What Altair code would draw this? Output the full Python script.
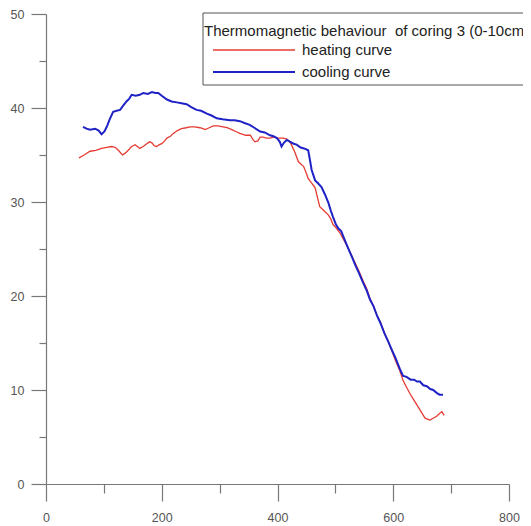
import altair as alt
import pandas as pd

series_names = ["heating curve", "cooling curve"]
series_colors = ["#e63b33", "#1f22c6"]
series_widths = [1.3, 2.0]
legend_title = "Thermomagnetic behaviour\u00a0 of coring 3 (0-10cm)"

x_ticks = list(range(0, 801, 100))
y_ticks = list(range(0, 51, 5))

heat_x = [57, 66, 76, 86, 96, 105, 113, 120, 125, 132,
          137, 142, 148, 154, 158, 162, 168, 174, 179, 183,
          187, 191, 196, 200, 205, 209, 215, 220, 227, 234,
          242, 249, 257, 266, 271, 275, 282, 289, 297, 306,
          313, 321, 328, 335, 345, 353, 358, 361, 366, 370,
          375, 381, 387, 393, 400, 405, 410, 416, 420, 424,
          430, 436, 441, 445, 449, 453, 459, 465, 469, 473,
          480, 488, 492, 496, 502, 508, 515, 522, 528, 535,
          541, 548, 554, 560, 566, 572, 578, 585, 591, 598,
          604, 611, 617, 623, 629, 636, 643, 649, 655, 659,
          663, 669, 675, 680, 684, 688]
heat_y = [34.7, 35.0, 35.4, 35.5, 35.7, 35.8, 35.9, 35.8, 35.5, 35.0,
          35.2, 35.5, 35.9, 36.1, 35.9, 35.7, 35.9, 36.2, 36.4, 36.3,
          36.0, 35.9, 36.1, 36.2, 36.5, 36.8, 37.0, 37.3, 37.6, 37.8,
          37.9, 38.0, 38.0, 37.9, 37.8, 37.7, 37.9, 38.1, 38.1, 38.0,
          37.9, 37.7, 37.5, 37.3, 37.1, 37.1, 36.6, 36.4, 36.5, 36.9,
          36.9, 36.8, 36.8, 36.9, 36.8, 36.8, 36.8, 36.7, 36.5, 36.1,
          35.3, 34.3, 34.0, 33.8, 33.2, 32.5, 32.0, 31.5, 30.5, 29.5,
          29.1, 28.6, 28.2, 27.6, 27.2, 26.7, 25.9, 25.1, 24.3, 23.4,
          22.6, 21.6, 20.8, 19.7, 18.9, 17.9, 17.2, 16.0, 15.2, 14.1,
          13.1, 12.1, 11.0, 10.3, 9.6, 8.9, 8.2, 7.6, 7.0, 6.9,
          6.8, 7.0, 7.2, 7.5, 7.7, 7.3]

cool_x = [64, 70, 76, 85, 91, 96, 101, 105, 110, 116,
          122, 128, 134, 139, 144, 148, 155, 162, 168, 176,
          183, 189, 194, 200, 209, 217, 226, 234, 243, 251,
          260, 268, 278, 286, 295, 305, 318, 326, 335, 343,
          352, 360, 370, 378, 387, 393, 399, 404, 407, 411,
          416, 422, 428, 433, 440, 446, 453, 456, 459, 465,
          470, 476, 482, 488, 492, 496, 501, 505, 510, 514,
          522, 529, 535, 541, 548, 554, 560, 566, 572, 578,
          585, 591, 598, 604, 611, 617, 623, 630, 636, 641,
          646, 652, 658, 664, 669, 675, 680, 686]
cool_y = [38.0, 37.8, 37.7, 37.8, 37.6, 37.2, 37.5, 38.0, 38.8, 39.6,
          39.7, 39.8, 40.3, 40.7, 41.0, 41.4, 41.3, 41.4, 41.6, 41.5,
          41.7, 41.6, 41.6, 41.3, 40.9, 40.7, 40.6, 40.5, 40.4, 40.1,
          39.8, 39.7, 39.4, 39.2, 38.9, 38.8, 38.7, 38.7, 38.6, 38.4,
          38.2, 37.9, 37.5, 37.4, 37.1, 37.0, 36.8, 36.4, 35.9, 36.3,
          36.6, 36.4, 36.2, 36.1, 35.8, 35.7, 35.5, 34.5, 33.4, 32.3,
          32.0, 31.6, 30.8, 29.9, 29.1, 28.4, 27.6, 27.2, 26.9, 26.3,
          25.1, 24.1, 23.2, 22.4, 21.4, 20.6, 19.6, 18.9, 17.9, 17.1,
          16.0, 15.2, 14.2, 13.4, 12.3, 11.5, 11.4, 11.1, 11.1, 10.9,
          10.9, 10.5, 10.4, 10.1, 10.0, 9.7, 9.5, 9.5]

df = pd.concat([
    pd.DataFrame({"T": heat_x, "M": heat_y, "series": series_names[0]}),
    pd.DataFrame({"T": cool_x, "M": cool_y, "series": series_names[1]}),
], ignore_index=True)

color_scale = alt.Scale(domain=series_names, range=series_colors)
width_scale = alt.Scale(domain=series_names, range=series_widths)

x_axis = alt.Axis(
    values=x_ticks, title=None, grid=False,
    tickSize={"condition": {"test": "datum.value % 200 === 0", "value": 17}, "value": 9},
    labelExpr="datum.value % 200 === 0 ? datum.label : ''",
    labelPadding=10, labelFlush=False, labelOverlap=False, format="d",
)
y_axis = alt.Axis(
    values=y_ticks, title=None, grid=False,
    tickSize={"condition": {"test": "datum.value % 10 === 0", "value": 15}, "value": 7},
    labelExpr="datum.value % 10 === 0 ? datum.label : ''",
    labelPadding=7, labelOverlap=False, format="d",
)

lines = alt.Chart(df).mark_line(interpolate="linear").encode(
    x=alt.X("T:Q", scale=alt.Scale(domain=[0, 800], nice=False), axis=x_axis),
    y=alt.Y("M:Q", scale=alt.Scale(domain=[0, 50], nice=False), axis=y_axis),
    color=alt.Color("series:N", scale=color_scale, legend=None),
    strokeWidth=alt.StrokeWidth("series:N", scale=width_scale, legend=None),
    detail="series:N",
)

title_df = pd.DataFrame({"title": [legend_title]})
box = alt.Chart(title_df).mark_rect(fill="white", stroke="#555", strokeWidth=1).encode(
    x=alt.value(157), x2=alt.value(520), y=alt.value(-1), y2=alt.value(71)
)
title_txt = alt.Chart(title_df).mark_text(
    align="left", baseline="middle", font="Liberation Sans", fontSize=15, color="#222"
).encode(x=alt.value(158), y=alt.value(17), text="title:N")

leg_df = pd.DataFrame({"series": series_names})
legend_layers = []
for i, (name, ypos) in enumerate(zip(series_names, [36, 58])):
    sub = alt.Chart(leg_df).transform_filter(alt.datum.series == name)
    legend_layers.append(
        sub.mark_rule(strokeWidth=series_widths[i]).encode(
            x=alt.value(167), x2=alt.value(249), y=alt.value(ypos),
            color=alt.Color("series:N", scale=color_scale, legend=None),
        )
    )
    legend_layers.append(
        sub.mark_text(align="left", baseline="middle", font="Liberation Sans",
                      fontSize=15, color="#222").encode(
            x=alt.value(256), y=alt.value(ypos), text="series:N"
        )
    )

chart = alt.layer(lines, box, title_txt, *legend_layers).properties(
    width=463, height=470,
    autosize=alt.AutoSizeParams(type="none"),
    padding={"left": 38, "top": 6, "right": 14, "bottom": 40},
    background="white",
).configure_view(stroke=None).configure_axis(
    labelFont="Liberation Sans", labelFontSize=12.5, labelColor="#555",
    domainColor="#777", tickColor="#777", domainWidth=1.2, tickWidth=1.2,
)

chart.save("out.html", embed_options={"renderer": "svg", "actions": False})
